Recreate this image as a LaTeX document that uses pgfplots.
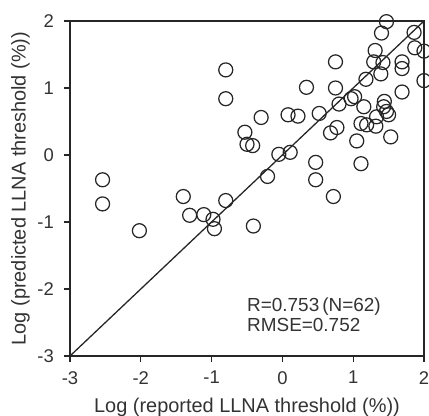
\documentclass[border=0pt]{standalone}
\usepackage{pgfplots}
\pgfplotsset{compat=1.18}
\usepackage{fontspec}
\setmainfont{Liberation Sans}
\begin{document}
\fontsize{18}{21}\selectfont
\begin{tikzpicture}
\begin{axis}[
  width=354bp, height=335bp, scale only axis,
  xmin=-3, xmax=2, ymin=-3, ymax=2,
  xtick={-3,-2,-1,0,1,2}, ytick={-3,-2,-1,0,1,2},
  tick align=outside, tick pos=left,
  major tick length=6bp,
  axis line style={line width=1.2pt, black!85},
  every tick/.style={line width=1.2pt, black!85},
  /pgf/number format/assume math mode=true,
  ticklabel style={font=\fontsize{18.5}{21}\selectfont, text=black!80},
  xticklabel style={yshift=-3bp},
  yticklabel style={xshift=-4bp},
  xlabel={Log (reported LLNA threshold (\%))},
  ylabel={Log (predicted LLNA threshold (\%))},
  label style={font=\fontsize{20}{23}\selectfont, text=black!80},
  xlabel style={at={(axis description cs:0.5,-0.1701)}, anchor=base},
  ylabel style={at={(axis description cs:-0.1257,0.5)}, anchor=base},
  clip=false,
]
\addplot[black!85, line width=1.3pt] coordinates {(-3,-3) (2,2)};
\addplot[only marks, mark=o, mark size=7bp, mark options={line width=1.25pt, black!85}] coordinates {
(-0.80,1.27) (-0.80,0.84) (-0.30,0.56) (-0.53,0.34) (-0.50,0.16) (-0.42,0.14)
(-2.54,-0.37) (-2.54,-0.73) (-1.40,-0.62) (-1.31,-0.90) (-1.11,-0.89) (-0.98,-0.96)
(-0.96,-1.10) (-0.80,-0.68) (-2.02,-1.13) (-0.41,-1.06)
(1.47,1.99) (1.40,1.82) (1.86,1.83) (1.87,1.60) (2.0,1.55) (2.0,1.11)
(1.31,1.56) (1.29,1.39) (1.42,1.38) (1.39,1.21) (1.69,1.39) (1.69,1.29) (1.69,0.94)
(0.75,1.39) (0.34,1.01) (0.75,1.00) (1.18,1.13)
(0.08,0.60) (0.22,0.58) (0.52,0.62) (0.80,0.76) (0.97,0.84) (1.02,0.87) (1.15,0.72)
(1.44,0.80) (1.43,0.72) (1.47,0.65) (1.50,0.60) (1.33,0.57)
(1.11,0.47) (1.19,0.45) (1.32,0.43) (1.53,0.27) (1.05,0.21) (1.11,-0.13)
(0.77,0.41) (0.68,0.33) (-0.05,0.01) (0.11,0.04) (-0.21,-0.32)
(0.47,-0.11) (0.47,-0.37) (0.72,-0.62)
};
\node[anchor=base west, text=black!80, font=\fontsize{19}{22}\selectfont, inner sep=0pt] at (axis cs:-0.50,-2.343) {R=0.753\,(N=62)};
\node[anchor=base west, text=black!80, font=\fontsize{19}{22}\selectfont, inner sep=0pt] at (axis cs:-0.50,-2.64) {RMSE=0.752};
\end{axis}
\pgfresetboundingbox
\path ([xshift=-70bp,yshift=-60bp]current axis.south west) rectangle ([xshift=5bp,yshift=21bp]current axis.north east);
\end{tikzpicture}
\end{document}
